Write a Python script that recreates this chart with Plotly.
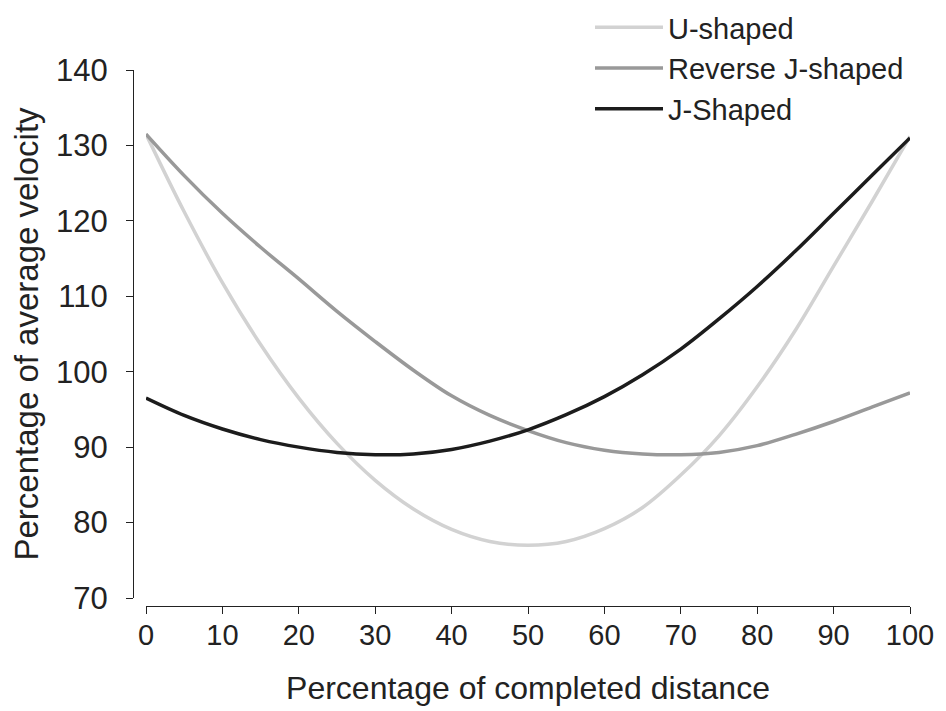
import plotly.graph_objects as go

distance = [0, 5, 10, 15, 20, 25, 30, 35, 40, 45, 50, 55, 60, 65, 70, 75, 80, 85, 90, 95, 100]
u_shaped = [131.5, 121.2, 111.8, 103.6, 96.5, 90.5, 85.6, 81.8, 79.1, 77.5, 77, 77.5, 79.2, 82, 86.3, 91.5, 98, 105.5, 114, 122.5, 131.2]
reverse_j = [131.5, 126, 121, 116.5, 112.3, 108, 104, 100.2, 96.8, 94.2, 92.2, 90.6, 89.6, 89.1, 89, 89.3, 90.2, 91.7, 93.4, 95.3, 97.2]
j_shaped = [96.5, 94.2, 92.4, 91, 90, 89.3, 89, 89.1, 89.7, 90.8, 92.3, 94.3, 96.7, 99.6, 103, 107, 111.3, 116, 121, 126, 131]

series_names = ["U-shaped", "Reverse J-shaped", "J-Shaped"]
series_values = [u_shaped, reverse_j, j_shaped]
series_colors = ["#d2d2d2", "#999999", "#1c1c1c"]

x_ticks = [0, 10, 20, 30, 40, 50, 60, 70, 80, 90, 100]
y_ticks = [70, 80, 90, 100, 110, 120, 130, 140]

FONT = "Liberation Sans, Arial, Helvetica, sans-serif"
TXT = "#222222"

fig = go.Figure()
for name, vals, col in zip(series_names, series_values, series_colors):
    fig.add_trace(go.Scatter(
        x=distance, y=vals, mode="lines", name=name,
        line=dict(color=col, width=3.5, shape="spline", smoothing=1.0),
    ))

# page has an 8px body margin; figure is sized so it ends at the window edge
OFF = 8
W, H = 946 - OFF, 711 - OFF
ml = 133 - OFF
mt = 70 - OFF
mr = W - (910 - OFF)
mb = H - (606 - OFF)
pw = W - ml - mr
ph = H - mt - mb

fig.update_layout(
    width=W, height=H,
    margin=dict(l=ml, r=mr, t=mt, b=mb, pad=0, autoexpand=False),
    paper_bgcolor="white", plot_bgcolor="white",
    font=dict(family=FONT, size=30, color=TXT),
    showlegend=True,
    legend=dict(
        x=(590 - OFF - ml) / pw, y=(H - mb + 6) / ph, xanchor="left", yanchor="top",
        bgcolor="rgba(0,0,0,0)", font=dict(size=29, family=FONT, color=TXT),
        itemwidth=68, tracegroupgap=0,
    ),
    xaxis=dict(
        domain=[(146 - 133) / pw, 1.0], range=[0, 100],
        anchor="free", position=0,
        tickmode="array", tickvals=x_ticks, ticktext=[str(v) for v in x_ticks],
        showgrid=False, zeroline=False, showline=True, linecolor=TXT, linewidth=1.2,
        ticks="outside", ticklen=7, tickcolor=TXT, tickwidth=1.2,
        ticklabelstandoff=-4,
        tickfont=dict(size=29, family=FONT, color=TXT),
        automargin=False,
        title=dict(text="Percentage of completed distance", font=dict(size=32, family=FONT, color=TXT), standoff=26),
    ),
    yaxis=dict(
        domain=[(606 - 598) / ph, 1.0], range=[70, 140],
        anchor="free", position=0,
        tickmode="array", tickvals=y_ticks, ticktext=[str(v) for v in y_ticks],
        showgrid=False, zeroline=False, showline=True, linecolor=TXT, linewidth=1.2,
        ticks="outside", ticklen=7, tickcolor=TXT, tickwidth=1.2,
        ticklabelstandoff=12,
        tickfont=dict(size=31, family=FONT, color=TXT),
        automargin=False,
        title=dict(text="Percentage of average velocity", font=dict(size=33, family=FONT, color=TXT), standoff=7),
    ),
)

fig.write_html("out.html")
